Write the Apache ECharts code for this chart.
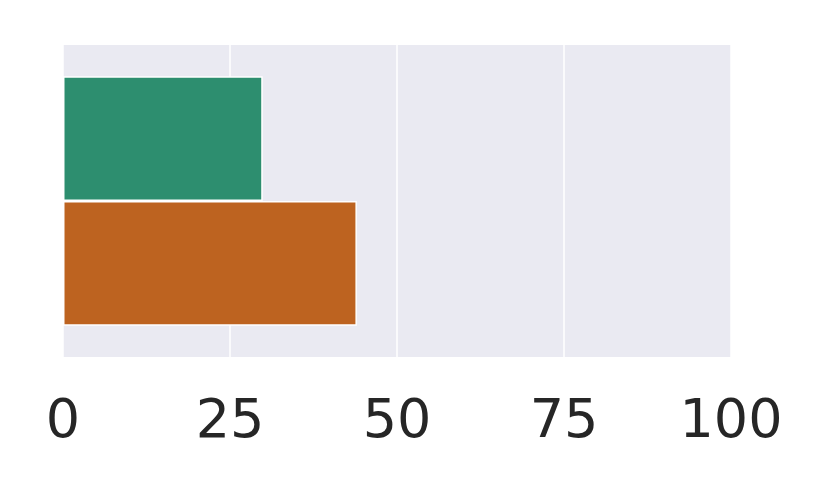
<!DOCTYPE html>
<html>
<head>
<meta charset="utf-8">
<script src="https://cdn.jsdelivr.net/npm/echarts@6/dist/echarts.min.js"></script>
<style>
  html, body { margin: 0; padding: 0; background: #fff; }
  #chart { width: 830px; height: 498px; }
</style>
</head>
<body>
<div id="chart"></div>
<script>
// data: one category, two hue groups
const categories = [''];
const hueNames = ['a', 'b'];
const hueValues = [29.9, 44.0];
const hueColors = ['#2d8e6f', '#bd6320'];
const xTicks = [0, 25, 50, 75, 100];

let chart = echarts.init(document.getElementById('chart'));
chart.setOption({
  animation: false,
  grid: {
    left: 63, right: 99, top: 45, bottom: 141,
    show: true, backgroundColor: '#eaeaf2', borderWidth: 0
  },
  xAxis: {
    type: 'value',
    min: xTicks[0],
    max: xTicks[xTicks.length - 1],
    interval: 25,
    axisLine: { show: false },
    axisTick: { show: false },
    splitLine: { show: true, lineStyle: { color: '#ffffff', width: 1.5 } },
    axisLabel: {
      color: '#262626', fontSize: 54, fontFamily: 'DejaVu Sans', margin: 39
    }
  },
  yAxis: {
    type: 'category',
    data: categories,
    inverse: true,
    show: false
  },
  series: hueNames.map((n, i) => ({
    name: n,
    type: 'bar',
    barGap: 0,
    barCategoryGap: '20%',
    data: [hueValues[i]],
    itemStyle: { color: hueColors[i], borderColor: '#ffffff', borderWidth: 1.5 }
  }))
});
</script>
</body>
</html>
